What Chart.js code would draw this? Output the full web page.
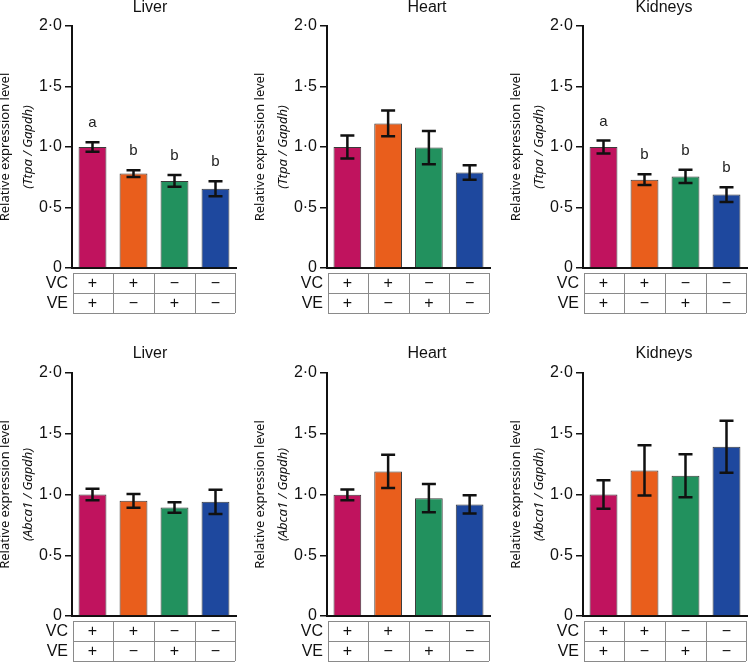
<!DOCTYPE html>
<html><head><meta charset="utf-8">
<script src="https://cdn.jsdelivr.net/npm/chart.js@4/dist/chart.umd.min.js"></script>
<style>
html,body{margin:0;padding:0;background:#fff;}
body{width:748px;height:662px;overflow:hidden;position:relative;}
canvas{position:absolute;}
</style></head>
<body>
<canvas id="c0"></canvas><canvas id="c1"></canvas><canvas id="c2"></canvas>
<canvas id="c3"></canvas><canvas id="c4"></canvas><canvas id="c5"></canvas>
<script>
// ---------- data ----------
const groups = ['VC+ VE+', 'VC+ VE−', 'VC− VE+', 'VC− VE−'];
const vcRow = ['+', '+', '−', '−'];
const veRow = ['+', '−', '+', '−'];
const rowLabels = ['VC', 'VE'];
const yTickLabels = ['0', '0·5', '1·0', '1·5', '2·0'];
const organs = ['Liver', 'Heart', 'Kidneys'];
const genes = ['Ttpa', 'Abca1'];

const ttpaLiver      = [1.00, 0.78, 0.72, 0.655];
const ttpaLiverErr   = [0.040, 0.027, 0.048, 0.062];
const ttpaLiverSig   = ['a', 'b', 'b', 'b'];
const ttpaHeart      = [1.00, 1.195, 0.995, 0.79];
const ttpaHeartErr   = [0.096, 0.107, 0.138, 0.060];
const ttpaKidney     = [1.00, 0.73, 0.757, 0.607];
const ttpaKidneyErr  = [0.053, 0.045, 0.054, 0.061];
const ttpaKidneySig  = ['a', 'b', 'b', 'b'];
const abcaLiver      = [1.00, 0.948, 0.893, 0.94];
const abcaLiverErr   = [0.047, 0.057, 0.044, 0.100];
const abcaHeart      = [0.997, 1.19, 0.97, 0.918];
const abcaHeartErr   = [0.044, 0.137, 0.117, 0.075];
const abcaKidney     = [1.00, 1.198, 1.155, 1.393];
const abcaKidneyErr  = [0.117, 0.207, 0.177, 0.215];

// ---------- style ----------
const barColors = ['#C0135E', '#E95E1C', '#22915E', '#1E489E'];
const FONT = '"Liberation Sans", Arial, sans-serif';

const panels = [
  {organ: organs[0], gene: genes[0], vals: ttpaLiver,  errs: ttpaLiverErr,  sig: ttpaLiverSig,  left: 0,   top: 0,   w: 245, h: 320, axisW: 72, padR: 9, padT: 26, xH: 52, titleDX: 78,  titleY: 8},
  {organ: organs[1], gene: genes[0], vals: ttpaHeart,  errs: ttpaHeartErr,  sig: null,          left: 250, top: 0,   w: 245, h: 320, axisW: 77, padR: 5, padT: 26, xH: 52, titleDX: 100, titleY: 8},
  {organ: organs[2], gene: genes[0], vals: ttpaKidney, errs: ttpaKidneyErr, sig: ttpaKidneySig, left: 500, top: 0,   w: 248, h: 320, axisW: 83, padR: 1, padT: 26, xH: 52, titleDX: 81,  titleY: 8},
  {organ: organs[0], gene: genes[1], vals: abcaLiver,  errs: abcaLiverErr,  sig: null,          left: 0,   top: 330, w: 245, h: 332, axisW: 72, padR: 9, padT: 43, xH: 46, titleDX: 78,  titleY: 24},
  {organ: organs[1], gene: genes[1], vals: abcaHeart,  errs: abcaHeartErr,  sig: null,          left: 250, top: 330, w: 245, h: 332, axisW: 77, padR: 5, padT: 43, xH: 46, titleDX: 100, titleY: 24},
  {organ: organs[2], gene: genes[1], vals: abcaKidney, errs: abcaKidneyErr, sig: null,          left: 500, top: 330, w: 248, h: 332, axisW: 83, padR: 1, padT: 43, xH: 46, titleDX: 81,  titleY: 24},
];

const decorPlugin = {
  id: 'decor',
  afterDatasetsDraw(chart, args, opts) {
    const p = opts.panel;
    const ctx = chart.ctx, y = chart.scales.y;
    const meta = chart.getDatasetMeta(0);
    ctx.save();
    ctx.strokeStyle = '#111';
    ctx.lineWidth = 2.5;
    meta.data.forEach((bar, i) => {
      const v = p.vals[i], e = p.errs[i];
      const yHi = y.getPixelForValue(v + e), yLo = y.getPixelForValue(v - e);
      const x = bar.x, cap = 7;
      ctx.beginPath();
      ctx.moveTo(x, yHi); ctx.lineTo(x, yLo);
      ctx.moveTo(x - cap, yHi); ctx.lineTo(x + cap, yHi);
      ctx.moveTo(x - cap, yLo); ctx.lineTo(x + cap, yLo);
      ctx.stroke();
      if (p.sig) {
        ctx.fillStyle = '#222';
        ctx.font = '15px ' + FONT;
        ctx.textAlign = 'center';
        ctx.textBaseline = 'middle';
        ctx.fillText(p.sig[i], x, yHi - 19);
      }
    });
    ctx.restore();
  },
  afterDraw(chart, args, opts) {
    const p = opts.panel;
    const ctx = chart.ctx, ca = chart.chartArea, xs = chart.scales.x;
    ctx.save();
    // title
    ctx.fillStyle = '#111';
    ctx.font = '16px ' + FONT;
    ctx.textAlign = 'center';
    ctx.textBaseline = 'middle';
    ctx.fillText(p.organ, ca.left + p.titleDX, p.titleY);
    // y axis title (two lines)
    const cy = (ca.top + ca.bottom) / 2;
    ctx.save();
    ctx.translate(ca.left - 67, cy);
    ctx.rotate(-Math.PI / 2);
    ctx.font = '13px "Noto Sans", ' + FONT;
    ctx.fillText('Relative expression level', 0, 0);
    ctx.restore();
    ctx.save();
    ctx.translate(ca.left - 44, cy);
    ctx.rotate(-Math.PI / 2);
    ctx.font = 'italic 13px "Noto Sans", ' + FONT;
    ctx.fillText('(' + p.gene + ' / Gapdh)', 0, 0);
    ctx.restore();
    // table
    const t0 = ca.bottom + 5, rh = 20;
    const L = ca.left + 1, R = ca.right - 1;
    ctx.strokeStyle = '#8a8a8a';
    ctx.lineWidth = 1;
    ctx.beginPath();
    for (let r = 0; r <= 2; r++) {
      const yy = Math.round(t0 + r * rh) + 0.5;
      ctx.moveTo(L, yy); ctx.lineTo(R, yy);
    }
    const bounds = [L];
    for (let i = 1; i < groups.length; i++) {
      bounds.push((xs.getPixelForValue(i - 1) + xs.getPixelForValue(i)) / 2);
    }
    bounds.push(R);
    bounds.forEach(bx => {
      const xx = Math.round(bx) + 0.5;
      ctx.moveTo(xx, t0); ctx.lineTo(xx, t0 + 2 * rh);
    });
    ctx.stroke();
    ctx.fillStyle = '#111';
    ctx.font = '16px ' + FONT;
    [vcRow, veRow].forEach((row, r) => {
      const yy = t0 + r * rh + rh / 2 + 1;
      ctx.textAlign = 'right';
      ctx.fillText(rowLabels[r], ca.left - 4, yy);
      ctx.textAlign = 'center';
      row.forEach((s, i) => ctx.fillText(s, xs.getPixelForValue(i), yy));
    });
    ctx.restore();
  }
};

panels.forEach((p, k) => {
  const cv = document.getElementById('c' + k);
  cv.width = p.w; cv.height = p.h;
  cv.style.left = p.left + 'px'; cv.style.top = p.top + 'px';
  cv.style.width = p.w + 'px'; cv.style.height = p.h + 'px';
  new Chart(cv, {
    type: 'bar',
    data: {
      labels: groups,
      datasets: [{
        data: p.vals,
        backgroundColor: barColors,
        borderColor: '#3a3a3a',
        borderWidth: 1,
        categoryPercentage: 1,
        barPercentage: 0.68
      }]
    },
    options: {
      responsive: false,
      devicePixelRatio: 1,
      animation: false,
      layout: {padding: {top: p.padT, right: p.padR, left: 0, bottom: 0}},
      plugins: {legend: {display: false}, tooltip: {enabled: false}, decor: {panel: p}},
      scales: {
        x: {
          ticks: {display: false},
          grid: {display: false, drawTicks: false},
          border: {display: true, color: '#111', width: 2},
          afterFit(s) { s.height = p.xH; }
        },
        y: {
          min: 0, max: 2,
          ticks: {
            stepSize: 0.5,
            padding: 3,
            color: '#111',
            font: {family: FONT, size: 16},
            callback: (v, i) => yTickLabels[i]
          },
          grid: {display: true, drawOnChartArea: false, drawTicks: true, tickLength: 7, color: '#111', lineWidth: 1.5},
          border: {display: true, color: '#111', width: 2},
          afterFit(s) { s.width = p.axisW; }
        }
      }
    },
    plugins: [decorPlugin]
  });
});
</script>
</body></html>
